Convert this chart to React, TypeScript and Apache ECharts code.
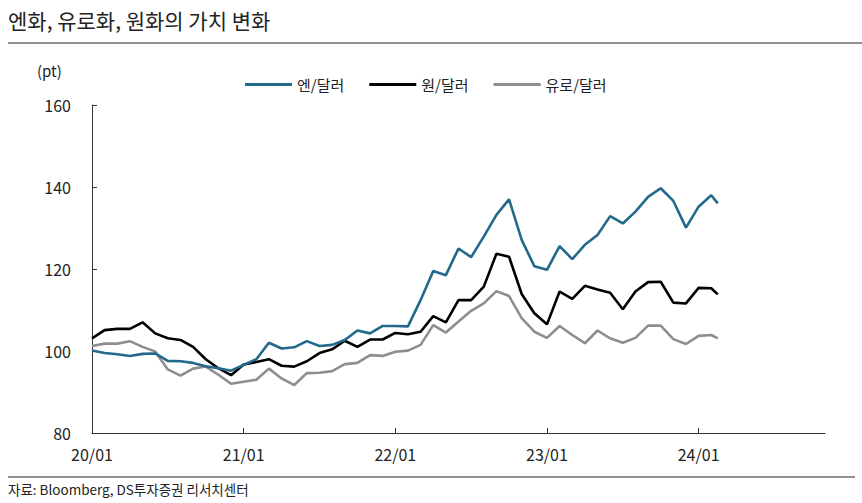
import React, { useEffect, useRef } from "react";
import * as echarts from "echarts";

// Observation dates (monthly, last one mid-February 2024)
const dates: string[] = [
  "2020-01-01","2020-02-01","2020-03-01","2020-04-01","2020-05-01","2020-06-01","2020-07-01","2020-08-01","2020-09-01","2020-10-01","2020-11-01","2020-12-01",
  "2021-01-01","2021-02-01","2021-03-01","2021-04-01","2021-05-01","2021-06-01","2021-07-01","2021-08-01","2021-09-01","2021-10-01","2021-11-01","2021-12-01",
  "2022-01-01","2022-02-01","2022-03-01","2022-04-01","2022-05-01","2022-06-01","2022-07-01","2022-08-01","2022-09-01","2022-10-01","2022-11-01","2022-12-01",
  "2023-01-01","2023-02-01","2023-03-01","2023-04-01","2023-05-01","2023-06-01","2023-07-01","2023-08-01","2023-09-01","2023-10-01","2023-11-01","2023-12-01",
  "2024-01-01","2024-02-01","2024-02-16",
];

const yenUsd: number[] = [
  100.1, 99.5, 99.2, 98.8, 99.3, 99.4, 97.6, 97.5, 97.1, 96.3, 95.8, 95.2,
  96.6, 98.0, 102.0, 100.6, 100.9, 102.4, 101.2, 101.5, 102.7, 105.0, 104.3, 106.1,
  106.1, 106.0, 112.4, 119.5, 118.5, 125.0, 122.9, 127.9, 133.2, 137.0, 127.1, 120.7,
  119.8, 125.6, 122.4, 125.9, 128.3, 132.9, 131.1, 134.0, 137.6, 139.7, 136.6, 130.1,
  135.2, 138.0, 136.0,
];

const wonUsd: number[] = [
  103.1, 105.1, 105.4, 105.4, 107.0, 104.3, 103.1, 102.7, 101.0, 98.0, 95.8, 94.1,
  96.7, 97.3, 98.0, 96.4, 96.2, 97.5, 99.5, 100.4, 102.5, 101.0, 102.8, 102.8,
  104.4, 104.1, 104.7, 108.5, 107.0, 112.4, 112.4, 115.7, 123.7, 123.0, 113.9, 109.2,
  106.5, 114.5, 112.7, 115.9, 115.0, 114.2, 110.2, 114.5, 116.8, 116.9, 111.8, 111.6,
  115.4, 115.3, 113.8,
];

const euroUsd: number[] = [
  101.2, 101.8, 101.8, 102.4, 101.0, 99.9, 95.5, 94.0, 95.7, 96.2, 94.2, 92.0,
  92.5, 93.0, 95.7, 93.3, 91.7, 94.6, 94.7, 95.1, 96.8, 97.1, 99.0, 98.8,
  99.8, 100.1, 101.5, 106.3, 104.5, 107.2, 109.8, 111.6, 114.6, 113.4, 108.0, 104.7,
  103.2, 106.1, 103.9, 101.9, 105.0, 103.1, 102.0, 103.2, 106.2, 106.2, 102.9, 101.7,
  103.7, 103.9, 103.1,
];

const seriesNames = ["엔/달러", "원/달러", "유로/달러"];
const seriesColors = ["#23698c", "#000000", "#8e8e8e"];
const startYear = 2020;
const axisEndMonth = 58; // 24/11
const yTicks = [80, 100, 120, 140, 160];

const FONT = "'Noto Sans CJK KR', 'Noto Sans', sans-serif";

function monthIndex(d: string): number {
  const [y, m, day] = d.split("-").map(Number);
  const dim = new Date(y, m, 0).getDate();
  return (y - startYear) * 12 + (m - 1) + (day - 1) / dim;
}

export default function App() {
  const ref = useRef<HTMLDivElement>(null);

  useEffect(() => {
    if (!ref.current) return;
    const chart = echarts.init(ref.current, undefined, { renderer: "svg" });
    const xs = dates.map(monthIndex);
    const mk = (vals: number[]) => vals.map((v, i) => [xs[i], v]);
    const all = [yenUsd, wonUsd, euroUsd];

    chart.setOption({
      animation: false,
      textStyle: { fontFamily: FONT },
      grid: { left: 92, right: 37, top: 105, bottom: 70, containLabel: false },
      legend: {
        left: 240,
        top: 72,
        itemWidth: 47,
        itemHeight: 3,
        itemGap: 25,
        icon: "rect",
        textStyle: { fontSize: 15, color: "#222", fontFamily: FONT },
        data: seriesNames,
      },
      xAxis: {
        type: "value",
        min: 0,
        max: axisEndMonth,
        interval: 12,
        axisLine: { show: true, lineStyle: { color: "#333", width: 1 } },
        axisTick: { show: true, inside: true, length: 5, lineStyle: { color: "#333" } },
        splitLine: { show: false },
        axisLabel: {
          fontSize: 16,
          color: "#222",
          margin: 13,
          fontFamily: FONT,
          formatter: (v: number) => {
            if (v % 12 !== 0) return "";
            const yy = String(startYear + v / 12).slice(2);
            return `${yy}/01`;
          },
          showMaxLabel: false,
        },
      },
      yAxis: {
        type: "value",
        min: yTicks[0],
        max: yTicks[yTicks.length - 1],
        interval: 20,
        axisLine: { show: true, lineStyle: { color: "#333", width: 1 } },
        axisTick: { show: true, inside: true, length: 5, lineStyle: { color: "#333" } },
        splitLine: { show: false },
        axisLabel: { fontSize: 16, color: "#222", margin: 21, fontFamily: FONT },
      },
      series: seriesNames.map((name, i) => ({
        name,
        type: "line",
        data: mk(all[i]),
        symbol: "none",
        lineStyle: { color: seriesColors[i], width: 2.6 },
        itemStyle: { color: seriesColors[i] },
        z: 3 - i,
      })),
      graphic: [
        {
          type: "text",
          left: 8,
          top: 9,
          style: { text: "엔화, 유로화, 원화의 가치 변화", fontSize: 21, fill: "#222", fontFamily: FONT },
        },
        { type: "line", shape: { x1: 8, y1: 43, x2: 862, y2: 43 }, style: { stroke: "#222", lineWidth: 1.2 } },
        {
          type: "text",
          left: 37,
          top: 63,
          style: { text: "(pt)", fontSize: 15, fill: "#222", fontFamily: FONT },
        },
        { type: "line", shape: { x1: 8, y1: 477, x2: 855, y2: 477 }, style: { stroke: "#222", lineWidth: 1.2 } },
        {
          type: "text",
          left: 8,
          top: 482,
          style: { text: "자료: Bloomberg, DS투자증권 리서치센터", fontSize: 13.5, fill: "#222", fontFamily: FONT },
        },
      ],
    });
    return () => chart.dispose();
  }, []);

  return <div ref={ref} style={{ width: 862, height: 503, position: "absolute", left: 0, top: 0 }} />;
}
